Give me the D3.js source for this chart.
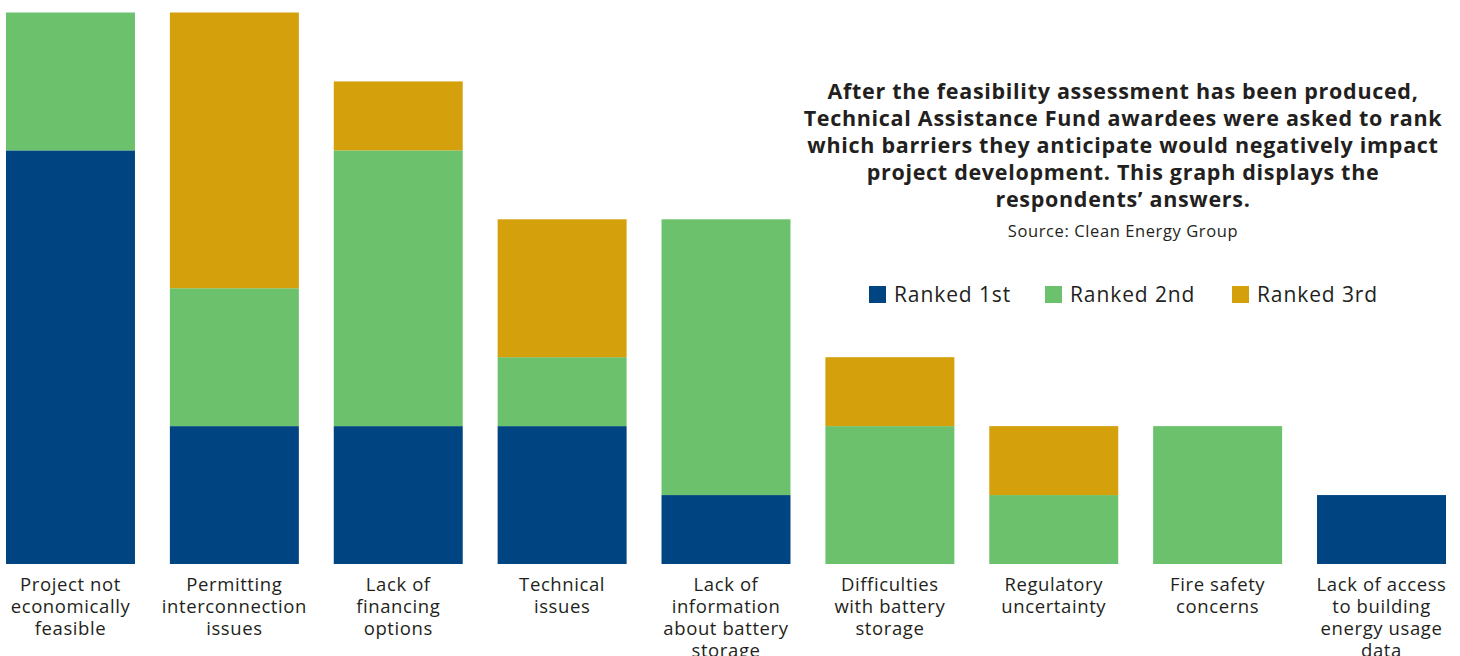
<!DOCTYPE html>
<html>
<head>
<script src="https://d3js.org/d3.v7.min.js"></script>
<style>
  body { margin: 0; background: #fff; }
  svg { display: block; font-family: "Open Sans", sans-serif; }
</style>
</head>
<body>
<svg id="svg"></svg>
<script>
  // barrier categories, each label split into lines
  const categories = [
    ["Project not", "economically", "feasible"],
    ["Permitting", "interconnection", "issues"],
    ["Lack of", "financing", "options"],
    ["Technical", "issues"],
    ["Lack of", "information", "about battery", "storage"],
    ["Difficulties", "with battery", "storage"],
    ["Regulatory", "uncertainty"],
    ["Fire safety", "concerns"],
    ["Lack of access", "to building", "energy usage", "data"]
  ];
  const seriesNames = ["Ranked 1st", "Ranked 2nd", "Ranked 3rd"];
  const ranked1st = [6, 2, 2, 2, 1, 0, 0, 0, 1];
  const ranked2nd = [2, 2, 4, 1, 4, 2, 1, 2, 0];
  const ranked3rd = [0, 4, 1, 2, 0, 1, 1, 0, 0];
  const colors = ["#004481", "#6cc26c", "#d4a00c"];

  const titleLines = [
    "After the feasibility assessment has been produced,",
    "Technical Assistance Fund awardees were asked to rank",
    "which barriers they anticipate would negatively impact",
    "project development. This graph displays the",
    "respondents\u2019 answers."
  ];
  const source = "Source: Clean Energy Group";

  const width = 1460, height = 656;
  const baseY = 564;

  const svg = d3.select("#svg").attr("width", width).attr("height", height);

  const table = categories.map((c, i) => ({
    idx: i,
    "Ranked 1st": ranked1st[i],
    "Ranked 2nd": ranked2nd[i],
    "Ranked 3rd": ranked3rd[i]
  }));
  const stacked = d3.stack().keys(seriesNames)(table);

  const x = d3.scaleBand()
    .domain(d3.range(categories.length))
    .range([6, 1446])
    .paddingInner(0.213)
    .paddingOuter(0);

  const y = d3.scaleLinear()
    .domain([0, 8])
    .range([baseY, 12.5]);

  svg.append("g").selectAll("g")
    .data(stacked)
    .join("g")
    .attr("fill", (d, i) => colors[i])
    .selectAll("rect")
    .data(d => d)
    .join("rect")
    .attr("x", d => x(d.data.idx))
    .attr("width", x.bandwidth())
    .attr("y", d => y(d[1]))
    .attr("height", d => y(d[0]) - y(d[1]));

  // category labels
  const lab = svg.append("g").selectAll("text")
    .data(categories)
    .join("text")
    .attr("text-anchor", "middle")
    .attr("font-size", 18.5)
    .attr("letter-spacing", 0.6)
    .attr("fill", "#231f20")
    .attr("transform", (d, i) => `translate(${x(i) + x.bandwidth() / 2}, 591)`);
  lab.selectAll("tspan")
    .data(d => d)
    .join("tspan")
    .attr("x", 0)
    .attr("y", (d, i) => i * 22)
    .text(d => d);

  // title
  const cx = 1123;
  svg.append("text")
    .attr("text-anchor", "middle")
    .attr("font-size", 21.5)
    .attr("font-weight", "bold")
    .attr("letter-spacing", 0.7)
    .attr("fill", "#231f20")
    .selectAll("tspan")
    .data(titleLines)
    .join("tspan")
    .attr("x", cx)
    .attr("y", (d, i) => 99 + i * 27)
    .text(d => d);

  svg.append("text")
    .attr("x", cx)
    .attr("y", 237)
    .attr("text-anchor", "middle")
    .attr("font-size", 16.5)
    .attr("letter-spacing", 0.6)
    .attr("fill", "#231f20")
    .text(source);

  // legend
  const legendX = [869, 1045, 1232];
  const leg = svg.append("g").selectAll("g")
    .data(seriesNames)
    .join("g")
    .attr("transform", (d, i) => `translate(${legendX[i]}, 286)`);
  leg.append("rect")
    .attr("width", 17).attr("height", 17)
    .attr("fill", (d, i) => colors[i]);
  leg.append("text")
    .attr("x", 25).attr("y", 16)
    .attr("font-size", 21)
    .attr("letter-spacing", 0.9)
    .attr("fill", "#231f20")
    .text(d => d);
</script>
</body>
</html>
